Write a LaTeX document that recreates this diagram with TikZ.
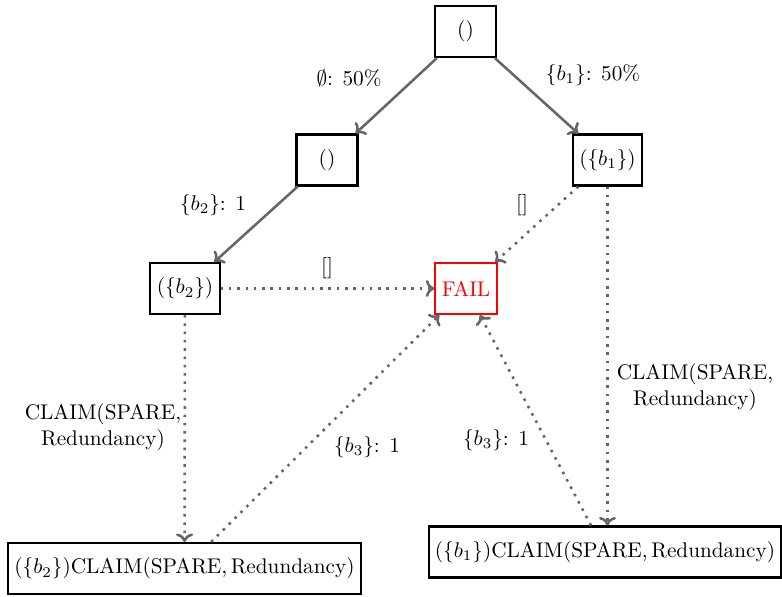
\documentclass[tikz,border=0pt]{standalone}
\usetikzlibrary{arrows.meta}
\begin{document}
\begin{tikzpicture}[x=0.4706pt,y=-0.4706pt,
  state/.style={draw=black,line width=1pt,rectangle,minimum width=28.7pt,minimum height=24pt,inner xsep=3pt,inner ysep=3pt},
  failstate/.style={state,draw=red,text=red},
  tip/.style={-{Computer Modern Rightarrow[length=4pt,width=8pt]}},
  move/.style={tip,draw=black!60,line width=1.2pt},
  weak/.style={tip,draw=black!60,line width=1.2pt,dash pattern=on 1.2pt off 2.7pt},
  lbl/.style={inner sep=0pt,align=center}]
\useasboundingbox (0,0) rectangle (782,596);

% states
\node[state] (root) at (465.5,31.5) {()};
\node[state] (s0) at (327,160) {()};
\node[state] (s1) at (607.5,160) {(\{$b_1$\})};
\node[state] (s2) at (185,288.5) {(\{$b_2$\})};
\node[failstate] (fail) at (466,288.5) {FAIL};
\node[state] (c2) at (184.5,568.5) {(\{$b_2$\})CLAIM(SPARE,\,Redundancy)};
\node[state] (c1) at (605,552) {(\{$b_1$\})CLAIM(SPARE,\,Redundancy)};

% transitions
\draw[move] (root) -- (s0);
\draw[move] (root) -- (s1);
\draw[move] (s0) -- (s2);
\draw[weak] (s1) -- (fail);
\draw[weak] (s2) -- (fail);
\draw[weak] (s2) -- (c2);
\draw[weak] (c2) -- (fail);
\draw[weak] (s1.south) -- (s1.south |- c1.north);
\draw[weak] (c1) -- (fail);

% transition labels
\node[lbl] (l0) at (349,78) {$\emptyset$: 50\%};
\node[lbl] (l1) at (593,75) {\{$b_1$\}: 50\%};
\node[lbl] (l2) at (213,205) {\{$b_2$\}: 1};
\node[lbl] (l3) at (522,205) {[]};
\node[lbl] (l4) at (327,268) {[]};
\node[lbl] (l5) at (367,447) {\{$b_3$\}: 1};
\node[lbl] (l6) at (496,440) {\{$b_3$\}: 1};
\node[lbl] (l7) at (103,427) {CLAIM(SPARE,\\Redundancy)};
\node[lbl] (l8) at (695,387) {CLAIM(SPARE,\\Redundancy)};
\end{tikzpicture}
\end{document}
